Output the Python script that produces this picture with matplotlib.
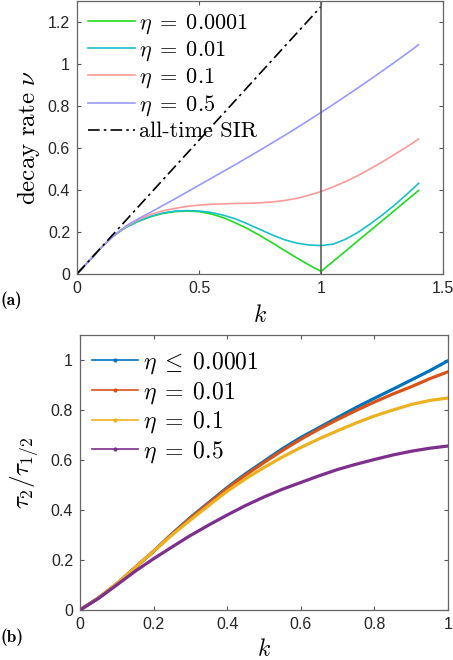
import matplotlib
matplotlib.use("Agg")
import matplotlib.pyplot as plt
from matplotlib.lines import Line2D
from matplotlib.ticker import FuncFormatter

plt.rcParams['mathtext.fontset'] = 'cm'

# ---- panel (a): decay rate vs k ----
k_a = [0.00, 0.05, 0.10, 0.15, 0.20, 0.25, 0.30, 0.35, 0.40, 0.45,
       0.50, 0.55, 0.60, 0.65, 0.70, 0.75, 0.80, 0.85, 0.90, 0.95,
       1.00, 1.05, 1.10, 1.15, 1.20, 1.25, 1.30, 1.35, 1.40]
nu_0001 = [0.000, 0.063, 0.126, 0.182, 0.222, 0.250, 0.272, 0.288, 0.297, 0.300,
           0.297, 0.286, 0.268, 0.243, 0.215, 0.183, 0.148, 0.112, 0.077, 0.043,
           0.012, 0.060, 0.108, 0.157, 0.205, 0.253, 0.301, 0.350, 0.398]
nu_001 = [0.000, 0.063, 0.126, 0.182, 0.222, 0.251, 0.274, 0.290, 0.299, 0.302,
          0.300, 0.293, 0.280, 0.262, 0.238, 0.212, 0.186, 0.163, 0.147, 0.138,
          0.135, 0.142, 0.165, 0.197, 0.237, 0.280, 0.327, 0.378, 0.432]
nu_01 = [0.000, 0.063, 0.126, 0.182, 0.225, 0.258, 0.283, 0.300, 0.312, 0.322,
         0.328, 0.332, 0.334, 0.336, 0.337, 0.339, 0.343, 0.350, 0.360, 0.375,
         0.393, 0.415, 0.440, 0.468, 0.500, 0.533, 0.569, 0.605, 0.643]
nu_05 = [0.000, 0.063, 0.126, 0.182, 0.228, 0.262, 0.293, 0.325, 0.357, 0.390,
         0.423, 0.456, 0.489, 0.522, 0.556, 0.590, 0.625, 0.660, 0.696, 0.733,
         0.770, 0.808, 0.847, 0.886, 0.926, 0.967, 1.008, 1.050, 1.093]
k_sir = [0.0, 1.0]
nu_sir = [0.0, 1.275]

# ---- panel (b): tau2 / tau_1/2 vs k ----
k_b = [0.00, 0.05, 0.10, 0.15, 0.20, 0.25, 0.30, 0.35, 0.40, 0.45,
       0.50, 0.55, 0.60, 0.65, 0.70, 0.75, 0.80, 0.85, 0.90, 0.95, 1.00]
r_0001 = [0.000, 0.048, 0.105, 0.170, 0.235, 0.305, 0.370, 0.430, 0.490, 0.545,
          0.595, 0.645, 0.690, 0.730, 0.770, 0.810, 0.847, 0.883, 0.920, 0.957, 0.997]
r_001 = [0.000, 0.048, 0.105, 0.170, 0.235, 0.303, 0.367, 0.427, 0.486, 0.540,
         0.590, 0.638, 0.683, 0.724, 0.762, 0.798, 0.832, 0.864, 0.893, 0.925, 0.953]
r_01 = [0.000, 0.048, 0.105, 0.170, 0.235, 0.300, 0.360, 0.418, 0.475, 0.525,
        0.570, 0.612, 0.650, 0.685, 0.717, 0.748, 0.776, 0.800, 0.822, 0.838, 0.848]
r_05 = [0.000, 0.046, 0.100, 0.155, 0.205, 0.252, 0.298, 0.340, 0.380, 0.418,
        0.452, 0.483, 0.510, 0.537, 0.562, 0.583, 0.602, 0.620, 0.635, 0.647, 0.656]

labels_a = [r'$\eta\;=\;0.0001$', r'$\eta\;=\;0.01$', r'$\eta\;=\;0.1$', r'$\eta\;=\;0.5$']
colors_a = ['#1edc1e', '#17c0cc', '#ff9999', '#9999ff']
labels_b = [r'$\eta\;\leq\;0.0001$', r'$\eta\;=\;0.01$', r'$\eta\;=\;0.1$', r'$\eta\;=\;0.5$']
colors_b = ['#0072bd', '#d95319', '#edb120', '#7e2f8e']

fig = plt.figure(figsize=(4.53, 6.6), dpi=100)
ax1 = fig.add_axes([0.170, 0.585, 0.808, 0.413])
ax2 = fig.add_axes([0.1766, 0.0758, 0.8124, 0.4166])

fmt = FuncFormatter(lambda v, p: f'{v:g}')
tickfont = 'Liberation Sans'


def style(ax):
    for s in ax.spines.values():
        s.set_color('#666666')
        s.set_linewidth(0.9)
    ax.tick_params(direction='in', top=True, right=True, length=3, width=0.8,
                   color='#555555', labelsize=11.5, labelcolor='#262626', pad=5)
    ax.xaxis.set_major_formatter(fmt)
    ax.yaxis.set_major_formatter(fmt)
    for lab in ax.get_xticklabels() + ax.get_yticklabels():
        lab.set_fontfamily(tickfont)


# panel (a)
series_a = [nu_0001, nu_001, nu_01, nu_05]
for ys, c, lab in zip(series_a, colors_a, labels_a):
    ax1.plot(k_a, ys, color=c, lw=1.2, label=lab)
ax1.plot(k_sir, nu_sir, color='black', lw=1.2, dashes=(7, 2.5, 1.5, 2.5),
         label='all-time SIR')
ax1.axvline(1.0, color='#555555', lw=1.1)
ax1.set_xlim(0, 1.5)
ax1.set_ylim(0, 1.3)
ax1.set_xticks([0, 0.5, 1, 1.5])
ax1.set_yticks([0, 0.2, 0.4, 0.6, 0.8, 1.0, 1.2])
style(ax1)
ax1.set_xlabel(r'$k$', fontsize=17, labelpad=5)
ax1.set_ylabel(r'$\mathrm{decay\ rate}\ \nu$', fontsize=18, labelpad=4)
leg1 = ax1.legend(loc='upper left', frameon=False, fontsize=16,
                  handlelength=2.1, handletextpad=0.2, labelspacing=0.16,
                  borderaxespad=0.1, bbox_to_anchor=(0.0, 1.0))
for t in leg1.get_texts():
    if t.get_text() == 'all-time SIR':
        t.set_fontfamily('cmr10')

# panel (b)
series_b = [r_0001, r_001, r_01, r_05]
handles = []
for ys, c, lab in zip(series_b, colors_b, labels_b):
    ax2.plot(k_b, ys, color=c, lw=2.3)
    handles.append(Line2D([], [], color=c, lw=1.2, marker='.', markersize=4, label=lab))
ax2.set_xlim(0, 1)
ax2.set_ylim(0, 1.1)
ax2.set_xticks([0, 0.2, 0.4, 0.6, 0.8, 1])
ax2.set_yticks([0, 0.2, 0.4, 0.6, 0.8, 1])
style(ax2)
ax2.set_xlabel(r'$k$', fontsize=17, labelpad=4)
ax2.set_ylabel(r'$\tau_2/\tau_{1/2}$', fontsize=18, labelpad=6)
ax2.legend(handles=handles, loc='upper left', frameon=False, fontsize=17,
           handlelength=1.95, handletextpad=0.2, labelspacing=0.14,
           numpoints=1, borderaxespad=0.1, bbox_to_anchor=(0.0, 0.99))

fig.text(0.0, 1 - 300 / 660, '(a)', fontfamily='cmb10', fontsize=12.5, va='center')
fig.text(0.0, 1 - 637 / 660, '(b)', fontfamily='cmb10', fontsize=12.5, va='center')

fig.savefig('out.png', dpi=100)
